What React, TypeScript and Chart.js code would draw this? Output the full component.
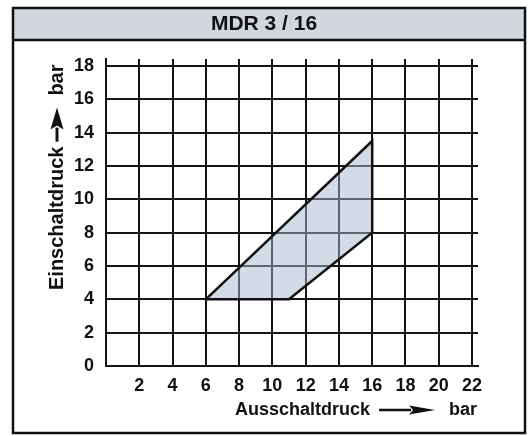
import React, { useEffect, useRef } from 'react';
import { Chart, registerables } from 'chart.js';

Chart.register(...registerables);

const TITLE = 'MDR 3 / 16';
const X_TITLE = 'Ausschaltdruck';
const Y_TITLE = 'Einschaltdruck';
const UNIT = 'bar';
const X_TICKS = [0, 2, 4, 6, 8, 10, 12, 14, 16, 18, 20, 22];
const Y_TICKS = [0, 2, 4, 6, 8, 10, 12, 14, 16, 18];
const RANGE_X = [6, 11, 16, 16, 6];
const RANGE_Y = [4, 4, 8, 13.5, 4];

const W = 528;
const H = 436;
const FONT = 'Arial, "Liberation Sans", Helvetica, sans-serif';
const GRID = '#141414';

function drawArrow(ctx: CanvasRenderingContext2D, x1: number, x2: number, head: number, half: number, lw: number) {
  ctx.beginPath();
  ctx.moveTo(x1, 0);
  ctx.lineTo(x2 - head + 2, 0);
  ctx.lineWidth = lw;
  ctx.strokeStyle = '#111';
  ctx.stroke();
  ctx.beginPath();
  ctx.moveTo(x2, 0);
  ctx.lineTo(x2 - head, -half);
  ctx.lineTo(x2 - head + 4, 0);
  ctx.lineTo(x2 - head, half);
  ctx.closePath();
  ctx.fillStyle = '#111';
  ctx.fill();
}

const framePlugin = {
  id: 'frame',
  beforeDraw(chart: any) {
    const ctx: CanvasRenderingContext2D = chart.ctx;
    ctx.save();
    ctx.fillStyle = '#ffffff';
    ctx.fillRect(0, 0, W, H);
    ctx.fillStyle = '#d2d6dd';
    ctx.fillRect(12, 7, 514, 33);
    ctx.restore();
  },
  afterDraw(chart: any) {
    const ctx: CanvasRenderingContext2D = chart.ctx;
    ctx.save();
    ctx.strokeStyle = '#111';
    ctx.lineWidth = 2.5;
    ctx.strokeRect(13, 8, 512, 425);
    ctx.beginPath();
    ctx.moveTo(13, 40);
    ctx.lineTo(525, 40);
    ctx.stroke();

    ctx.fillStyle = '#111';
    ctx.font = `bold 21px ${FONT}`;
    ctx.textAlign = 'center';
    ctx.textBaseline = 'middle';
    ctx.fillText(TITLE, 264, 24);

    // x title
    ctx.font = `bold 18px ${FONT}`;
    ctx.textAlign = 'left';
    const xStart = 235;
    const wx = ctx.measureText(X_TITLE).width;
    ctx.fillText(X_TITLE, xStart, 410);
    const a1 = xStart + wx + 9;
    const a2 = a1 + 56;
    ctx.save();
    ctx.translate(0, 410);
    drawArrow(ctx, a1, a2, 26, 4.5, 2.5);
    ctx.restore();
    ctx.fillStyle = '#111';
    ctx.fillText(UNIT, a2 + 14, 410);

    // y title
    ctx.save();
    ctx.translate(57, 290);
    ctx.rotate(-Math.PI / 2);
    ctx.font = `bold 20px ${FONT}`;
    ctx.textAlign = 'left';
    ctx.textBaseline = 'middle';
    const wy = ctx.measureText(Y_TITLE).width;
    ctx.fillText(Y_TITLE, 0, 0);
    const b1 = wy + 5;
    const b2 = b1 + 34;
    drawArrow(ctx, b1, b2, 22, 6.5, 3);
    ctx.fillStyle = '#111';
    ctx.fillText(UNIT, b2 + 12, 0);
    ctx.restore();

    ctx.restore();
  },
};

const setTicks = (scale: any, list: number[]) => {
  scale.ticks = list.map((v) => ({ value: v }));
};

export default function App() {
  const ref = useRef<HTMLCanvasElement>(null);
  useEffect(() => {
    if (!ref.current) return;
    const points = RANGE_X.map((x, i) => ({ x, y: RANGE_Y[i] }));
    const chart = new Chart(ref.current, {
      type: 'scatter',
      data: {
        datasets: [
          {
            data: points,
            showLine: true,
            fill: 'shape' as any,
            backgroundColor: 'rgba(168,183,205,0.5)',
            borderColor: '#111',
            borderWidth: 2.5,
            pointRadius: 0,
            tension: 0,
          },
        ],
      },
      options: {
        responsive: false,
        animation: false,
        devicePixelRatio: 1,
        layout: { padding: { left: 0, right: 50, top: 59, bottom: 0 } },
        plugins: { legend: { display: false }, tooltip: { enabled: false }, title: { display: false } },
        scales: {
          x: {
            type: 'linear',
            min: 0,
            max: 22.36,
            afterBuildTicks: (s: any) => setTicks(s, X_TICKS),
            afterFit: (s: any) => { s.height = 70; },
            ticks: {
              padding: 9,
              color: '#111',
              font: { family: FONT, size: 18, weight: 'bold' },
              callback: (v: any) => (Number(v) === 0 ? '' : String(v)),
            },
            grid: { color: GRID, lineWidth: 2, drawTicks: false },
            border: { display: true, color: GRID, width: 2 },
          },
          y: {
            type: 'linear',
            min: 0,
            max: 18.42,
            afterBuildTicks: (s: any) => setTicks(s, Y_TICKS),
            afterFit: (s: any) => { s.width = 106; },
            ticks: {
              padding: 12,
              color: '#111',
              font: { family: FONT, size: 18, weight: 'bold' },
              callback: (v: any) => String(v),
            },
            grid: { color: GRID, lineWidth: 2, drawTicks: false },
            border: { display: true, color: GRID, width: 2 },
          },
        },
      } as any,
      plugins: [framePlugin],
    });
    return () => chart.destroy();
  }, []);
  return (
    <canvas
      ref={ref}
      width={W}
      height={H}
      style={{ position: 'fixed', left: 0, top: 0, width: W, height: H, display: 'block' }}
    />
  );
}
